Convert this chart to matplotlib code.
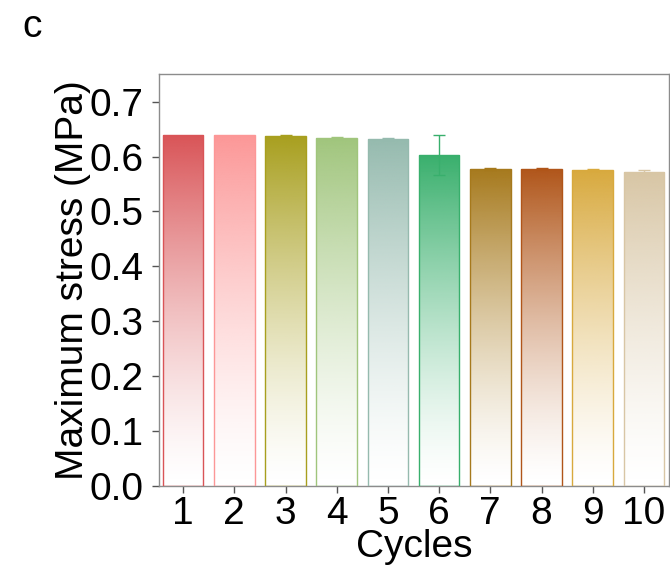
import numpy as np
import matplotlib
matplotlib.use('Agg')
import matplotlib.pyplot as plt
from matplotlib.colors import to_rgb

plt.rcParams['font.family'] = ['Liberation Sans', 'DejaVu Sans']

cycles = [1, 2, 3, 4, 5, 6, 7, 8, 9, 10]
stress = [0.640, 0.640, 0.638, 0.634, 0.632, 0.603, 0.578, 0.578, 0.576, 0.571]
err = [0.0, 0.0, 0.002, 0.002, 0.002, 0.036, 0.002, 0.002, 0.002, 0.004]
colors = ['#D95457', '#FC9797', '#A89F1E', '#A0C57C', '#95BAAE',
          '#38AF6C', '#A6791C', '#B05519', '#D8A93D', '#D8C6A5']

fig = plt.figure(figsize=(6.7, 5.7), dpi=100)
ax = fig.add_axes([0.237, 0.147, 0.7615, 0.723])

width = 0.79
bars = ax.bar(cycles, stress, width=width, facecolor='none',
              edgecolor=colors, linewidth=1.0, zorder=3)

# gradient fill: full colour on top, fading to white at the bottom
for b, c in zip(bars, colors):
    rgb = np.array(to_rgb(c))
    t = np.linspace(0, 1, 256)[:, None]  # 0 bottom, 1 top
    a = t ** 1.4
    img = np.ones((256, 1, 4))
    img[:, 0, :3] = rgb
    img[:, 0, 3] = a[:, 0]
    x0 = b.get_x()
    h = b.get_height()
    im = ax.imshow(img, extent=[x0, x0 + b.get_width(), 0, h], origin='lower',
                   aspect='auto', zorder=2, interpolation='bilinear')
    im.set_clip_path(b)

for x, y, e, c in zip(cycles, stress, err, colors):
    if e > 0:
        ax.errorbar(x, y, yerr=e, fmt='none', ecolor=c, elinewidth=1,
                    capsize=4, capthick=1, zorder=4)

ax.set_xlim(0.525, 10.49)
ax.set_ylim(0, 0.75)
ax.set_xticks(cycles)
ax.set_yticks(np.arange(0, 0.71, 0.1))
ax.set_yticklabels(['%.1f' % v for v in np.arange(0, 0.71, 0.1)])

for s in ax.spines.values():
    s.set_color('#8c8c8c')
    s.set_linewidth(1.0)
ax.tick_params(axis='both', direction='out', length=5, width=1,
               color='#555555', labelsize=28, pad=2)
ax.tick_params(axis='y', pad=6)

ax.set_xlabel('Cycles', fontsize=28, labelpad=-2)
ax.set_ylabel('Maximum stress (MPa)', fontsize=28, labelpad=-1)

fig.text(0.033, 0.953, 'c', fontsize=28, va='center', ha='left')

fig.savefig('out.png', dpi=100)
